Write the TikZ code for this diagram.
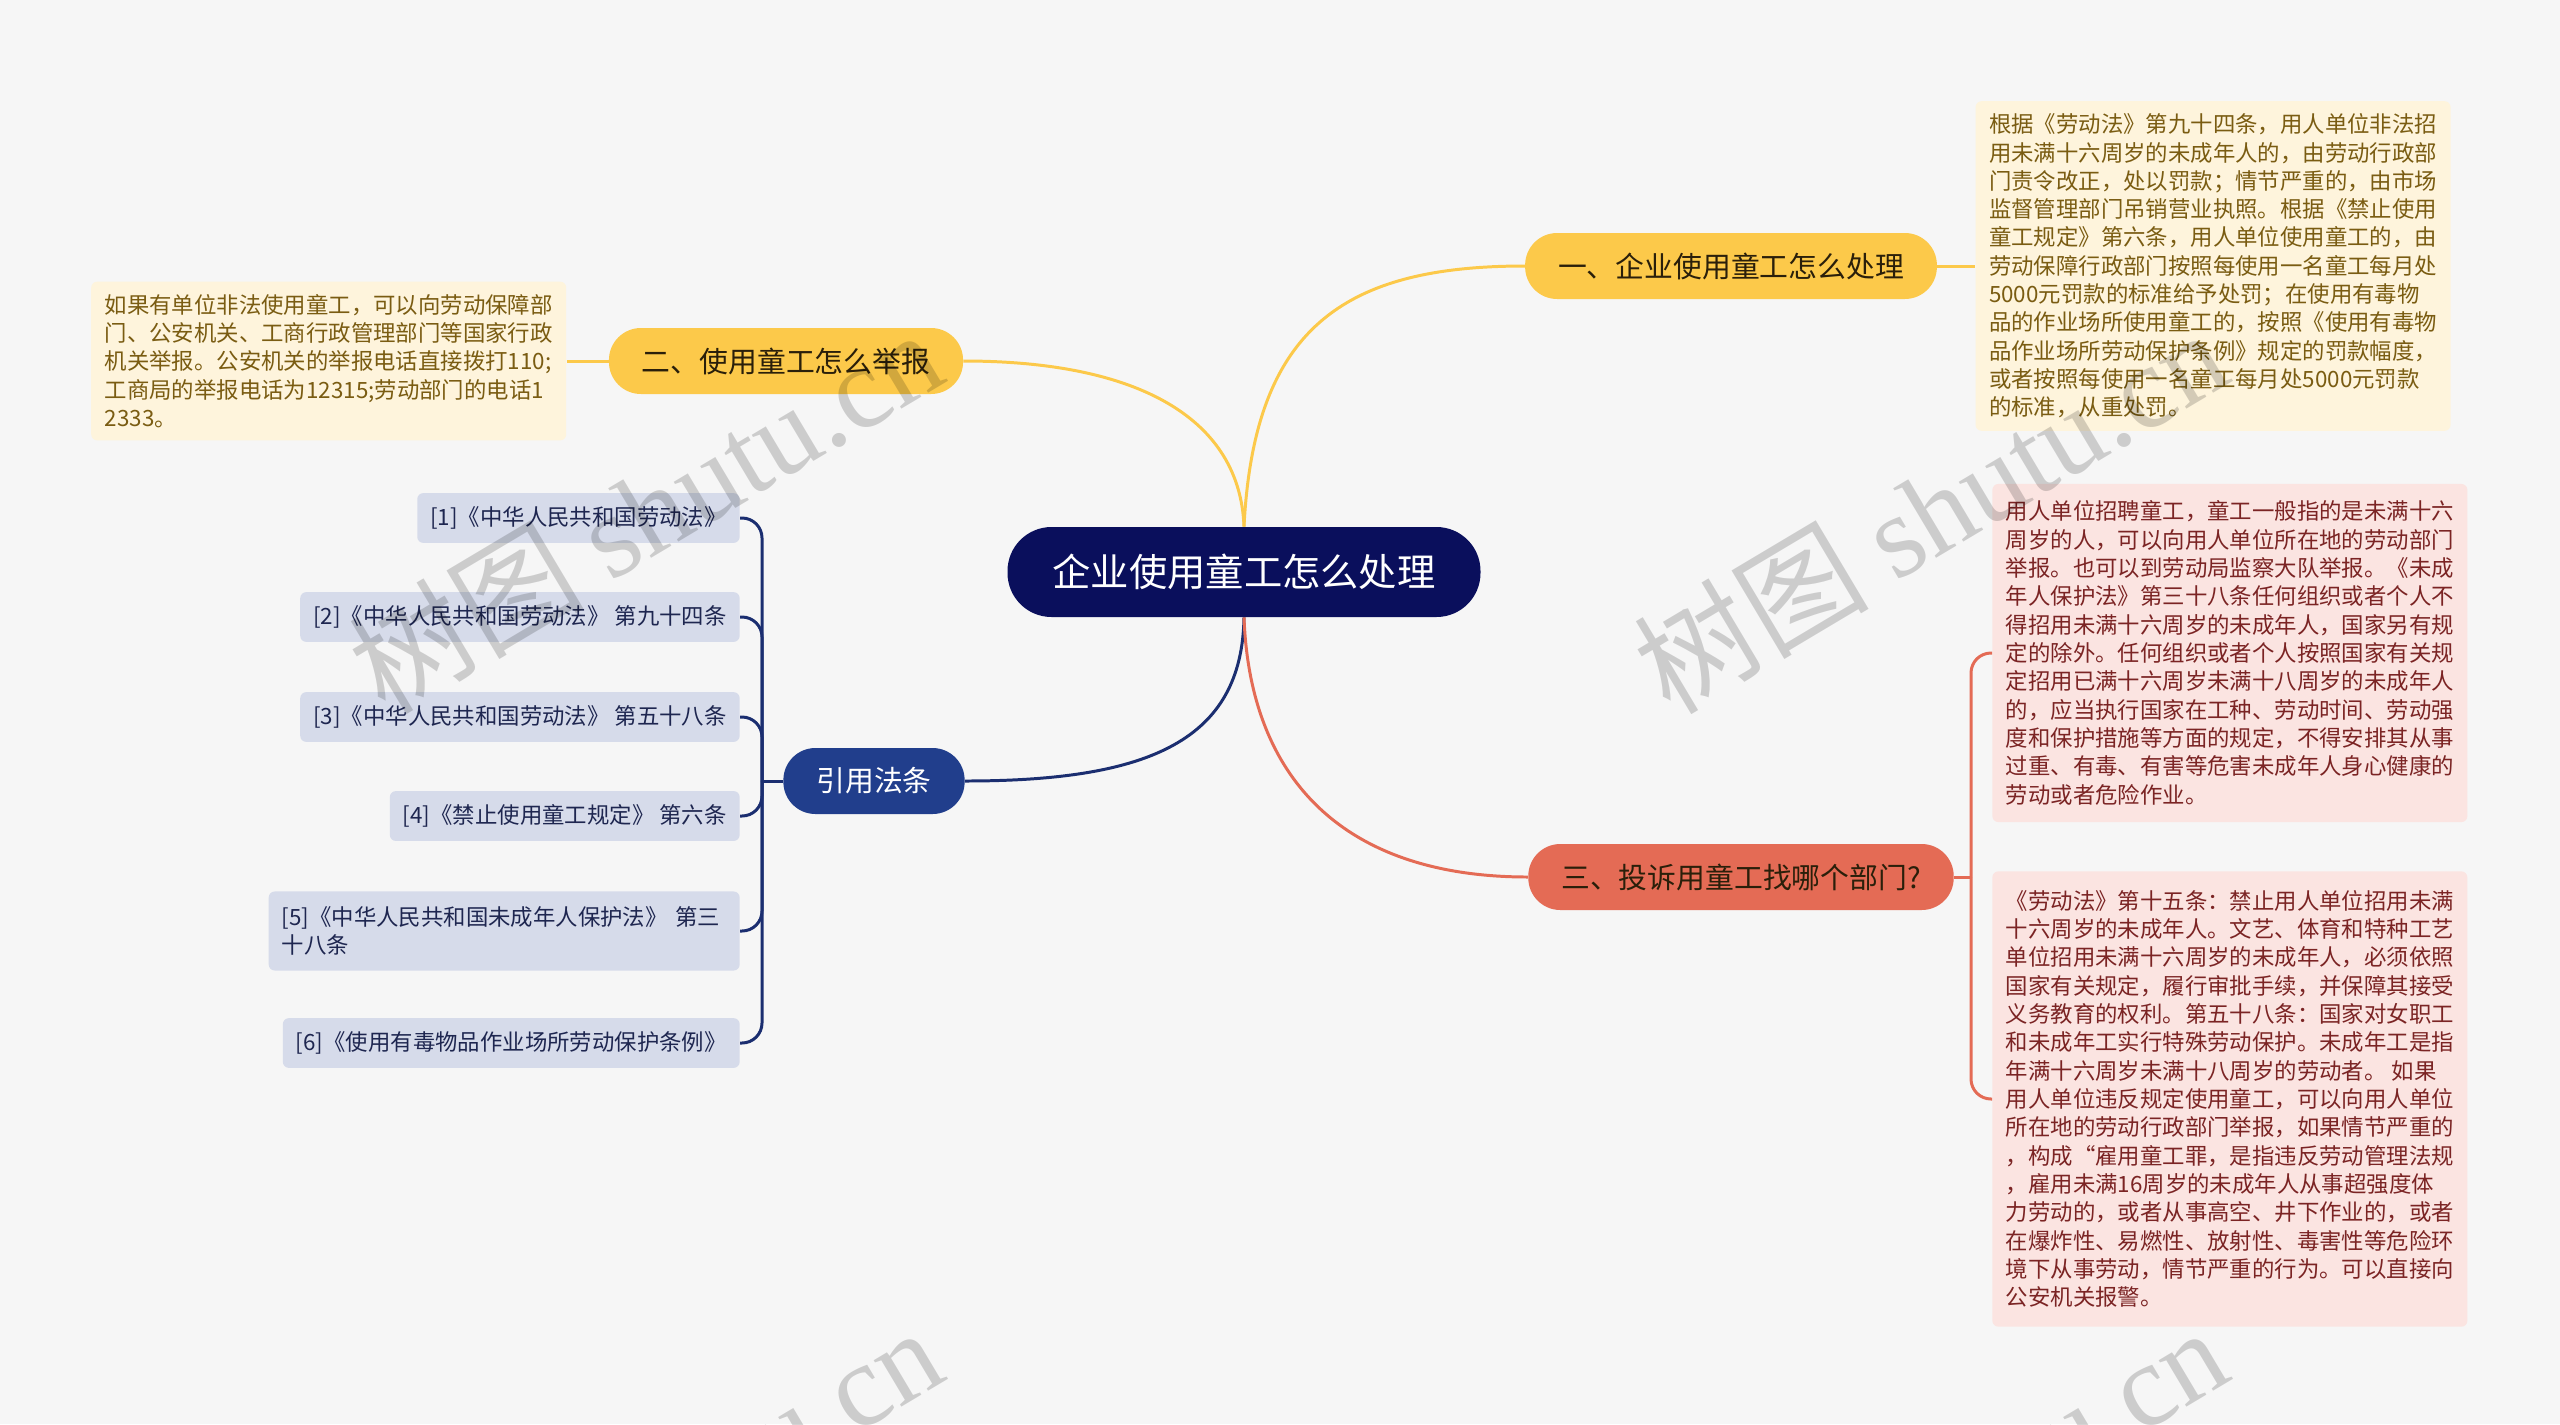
\documentclass[tikz,border=0pt]{standalone}
\usepackage{fontspec}
\setmainfont{Noto Sans CJK SC}
\newfontfamily\marklatin{Liberation Serif}
\usetikzlibrary{positioning}
\definecolor{paper}{HTML}{F6F6F6}
\definecolor{navy}{HTML}{0A0F5C}
\definecolor{gold}{HTML}{FCC94A}
\definecolor{cream}{HTML}{FEF4DC}
\definecolor{creamink}{HTML}{7A5C12}
\definecolor{royal}{HTML}{213E8C}
\definecolor{royalline}{HTML}{1B2E70}
\definecolor{citefill}{HTML}{D6DBEA}
\definecolor{citeink}{HTML}{1E2650}
\definecolor{coral}{HTML}{E46B55}
\definecolor{blush}{HTML}{FBE4E1}
\definecolor{blushink}{HTML}{7B2424}
\definecolor{darkink}{HTML}{2A1F0A}

\begin{document}
\begin{tikzpicture}[x=0.02cm,y=-0.02cm,rootnode/.style={rounded corners=0.88cm,fill=navy,text=white,minimum height=1.8cm,inner xsep=0.9cm,font=\fontsize{21.8}{26}\selectfont},topic/.style={rounded corners=0.64cm,fill=gold,text=darkink,minimum height=1.32cm,inner xsep=0.66cm,font=\fontsize{16.4}{20}\selectfont},notebox/.style={rounded corners=0.12cm,fill=cream,text=creamink,align=left,inner xsep=0.27cm,inner ysep=0.25cm,font=\fontsize{12.75}{16.12}\selectfont},citebox/.style={rounded corners=0.12cm,fill=citefill,text=citeink,align=left,anchor=east,inner xsep=0.26cm,inner ysep=0.27cm,font=\fontsize{12.75}{16.12}\selectfont},link/.style={line width=1.7pt},wmark/.style={black,opacity=0.17,rotate=30.8,font=\fontsize{67}{67}\selectfont}]
 \useasboundingbox (0,0) rectangle (2560,1424);
 \fill[paper] (0,0) rectangle (2560,1424);
 % centre and main topics
 \node[rootnode] (root) at (1244,572) {企业使用童工怎么处理};
 \node[topic] (one) at (1731,266) {一、企业使用童工怎么处理};
 \node[topic] (two) at (786,361) {二、使用童工怎么举报};
 \node[topic,fill=royal,text=white] (law) at (874,781) {引用法条};
 \node[topic,fill=coral,text=darkink] (three) at (1741,877) {三、投诉用童工找哪个部门?};
 % notes
 \node[notebox,right=0.76cm of one] (onenote) {根据《劳动法》第九十四条，用人单位非法招\\用未满十六周岁的未成年人的，由劳动行政部\\门责令改正，处以罚款；情节严重的，由市场\\监督管理部门吊销营业执照。根据《禁止使用\\童工规定》第六条，用人单位使用童工的，由\\劳动保障行政部门按照每使用一名童工每月处\\5000元罚款的标准给予处罚；在使用有毒物\\品的作业场所使用童工的，按照《使用有毒物\\品作业场所劳动保护条例》规定的罚款幅度，\\或者按照每使用一名童工每月处5000元罚款\\的标准，从重处罚。};
 \node[notebox,left=0.84cm of two] (twonote) {如果有单位非法使用童工，可以向劳动保障部\\门、公安机关、工商行政管理部门等国家行政\\机关举报。公安机关的举报电话直接拨打110;\\工商局的举报电话为12315;劳动部门的电话1\\2333。};
 \node[notebox,fill=blush,text=blushink,inner ysep=0.34cm,anchor=west] (threea) at (1992,653) {用人单位招聘童工，童工一般指的是未满十六\\周岁的人，可以向用人单位所在地的劳动部门\\举报。也可以到劳动局监察大队举报。《未成\\年人保护法》第三十八条任何组织或者个人不\\得招用未满十六周岁的未成年人，国家另有规\\定的除外。任何组织或者个人按照国家有关规\\定招用已满十六周岁未满十八周岁的未成年人\\的，应当执行国家在工种、劳动时间、劳动强\\度和保护措施等方面的规定，不得安排其从事\\过重、有毒、有害等危害未成年人身心健康的\\劳动或者危险作业。};
 \node[notebox,fill=blush,text=blushink,inner ysep=0.38cm,anchor=west] (threeb) at (1992,1099) {《劳动法》第十五条：禁止用人单位招用未满\\十六周岁的未成年人。文艺、体育和特种工艺\\单位招用未满十六周岁的未成年人，必须依照\\国家有关规定，履行审批手续，并保障其接受\\义务教育的权利。第五十八条：国家对女职工\\和未成年工实行特殊劳动保护。未成年工是指\\年满十六周岁未满十八周岁的劳动者。 如果\\用人单位违反规定使用童工，可以向用人单位\\所在地的劳动行政部门举报，如果情节严重的\\，构成“雇用童工罪，是指违反劳动管理法规\\，雇用未满16周岁的未成年人从事超强度体\\力劳动的，或者从事高空、井下作业的，或者\\在爆炸性、易燃性、放射性、毒害性等危险环\\境下从事劳动，情节严重的行为。可以直接向\\公安机关报警。};
 % cited laws
 \node[citebox] (c1) at (740,518) {[1]《中华人民共和国劳动法》};
 \node[citebox] (c2) at (740,617) {[2]《中华人民共和国劳动法》 第九十四条};
 \node[citebox] (c3) at (740,717) {[3]《中华人民共和国劳动法》 第五十八条};
 \node[citebox] (c4) at (740,816) {[4]《禁止使用童工规定》 第六条};
 \node[citebox,text width=8.9cm,inner ysep=0.3cm] (c5) at (740,931) {[5]《中华人民共和国未成年人保护法》 第三\\十八条};
 \node[citebox] (c6) at (740,1043) {[6]《使用有毒物品作业场所劳动保护条例》};
 % connectors
 \draw[link,gold] (root.north) .. controls +(10,-197) and +(-183,0) .. (one.west);
 \draw[link,gold] (root.north) .. controls +(-4,-107) and +(177,0) .. (two.east);
 \draw[link,royalline] (root.south) .. controls +(-2,123) and +(185,0) .. (law.east);
 \draw[link,coral] (root.south) .. controls +(6,163) and +(-183,0) .. (three.west);
 \draw[link,gold] (one.east) -- (onenote.west);
 \draw[link,gold] (two.west) -- (twonote.east);
 \coordinate (lawfork) at (762,781);
 \draw[link,royalline] (law.west) -- (lawfork);
 \draw[link,royalline,rounded corners=0.4cm] (lawfork) |- (c1.east);
 \draw[link,royalline,rounded corners=0.4cm] (lawfork) |- (c2.east);
 \draw[link,royalline,rounded corners=0.4cm] (lawfork) |- (c3.east);
 \draw[link,royalline,rounded corners=0.4cm] (lawfork) |- (c4.east);
 \draw[link,royalline,rounded corners=0.4cm] (lawfork) |- (c5.east);
 \draw[link,royalline,rounded corners=0.4cm] (lawfork) |- (c6.east);
 \coordinate (threefork) at (1971,877);
 \draw[link,coral] (three.east) -- (threefork);
 \draw[link,coral,rounded corners=0.4cm] (threefork) |- (threea.west);
 \draw[link,coral,rounded corners=0.4cm] (threefork) |- (threeb.west);
 % watermark
 \begin{scope}
  \clip (0,0) rectangle (2560,1424);
  \node[wmark] (markA) at (645,510) {树图 {\marklatin shutu.cn}};
  \node[wmark] (markB) at (1930,510) {树图 {\marklatin shutu.cn}};
  \node[wmark] (markC) at (645,1508) {树图 {\marklatin shutu.cn}};
  \node[wmark] (markD) at (1930,1508) {树图 {\marklatin shutu.cn}};
 \end{scope}
\end{tikzpicture}
\end{document}
